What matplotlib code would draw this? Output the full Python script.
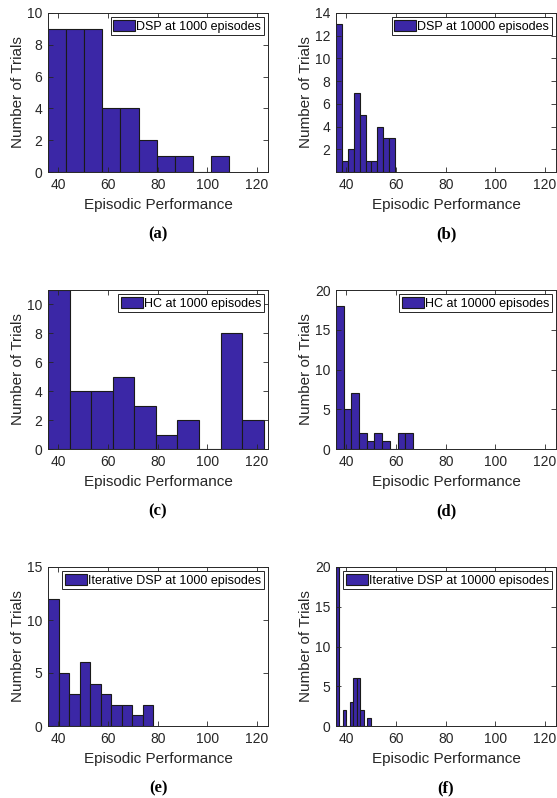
import numpy as np
from matplotlib import pyplot as plt

plt.rcParams['font.family'] = ['Liberation Sans', 'DejaVu Sans']

# histogram counts (10 bins each, first edge ~35.8)
bin_start = 35.8
cnt_a = [9, 9, 9, 4, 4, 2, 1, 1, 0, 1]
cnt_b = [13, 1, 2, 7, 5, 1, 1, 4, 3, 3]
cnt_c = [11, 4, 4, 5, 3, 1, 2, 0, 8, 2]
cnt_d = [18, 5, 7, 2, 1, 2, 1, 0, 2, 2]
cnt_e = [12, 5, 3, 6, 4, 3, 2, 2, 1, 2]
cnt_f = [20, 0, 2, 0, 3, 6, 6, 2, 0, 1]
widths = [7.3, 2.38, 8.7, 3.1, 4.25, 1.41]

labels = ['DSP at 1000 episodes', 'DSP at 10000 episodes',
          'HC at 1000 episodes', 'HC at 10000 episodes',
          'Iterative DSP at 1000 episodes', 'Iterative DSP at 10000 episodes']
captions = ['(a)', '(b)', '(c)', '(d)', '(e)', '(f)']
ylims = [10, 14, 11, 20, 15, 20]
yticks = [np.arange(0, 11, 2), np.arange(2, 15, 2), np.arange(0, 11, 2),
          np.arange(0, 21, 5), np.arange(0, 16, 5), np.arange(0, 21, 5)]
xticks = [40, 60, 80, 100, 120]

counts = [cnt_a, cnt_b, cnt_c, cnt_d, cnt_e, cnt_f]

W, H = 557, 798
fig = plt.figure(figsize=(W/100, H/100), dpi=100)

lefts = [48, 336]
tops = [13, 290, 567]
aw, ah = 220, 159

txtc = '#262626'
barc = '#3b27a6'

for k in range(6):
    r, c = k // 2, k % 2
    x0 = lefts[c]
    y0 = tops[r] + ah
    ax = fig.add_axes([x0/W, 1 - y0/H, aw/W, ah/H])

    cnt = np.array(counts[k])
    edges = bin_start + widths[k]*np.arange(len(cnt))
    ax.bar(edges, cnt, width=widths[k], align='edge', color=barc,
           edgecolor='#1a1a1a', linewidth=0.8, label=labels[k])

    ax.set_xlim(35.8, 124.5)
    ax.set_ylim(0, ylims[k])
    ax.set_xticks(xticks)
    ax.set_yticks(yticks[k])
    ax.tick_params(direction='in', top=True, right=True, length=3.5,
                   width=0.6, labelsize=10, colors=txtc, pad=4)
    for s in ax.spines.values():
        s.set_color(txtc)
        s.set_linewidth(0.7)

    ax.set_xlabel('Episodic Performance', fontsize=11, color=txtc)
    ax.set_ylabel('Number of Trials', fontsize=11, color=txtc)
    ax.xaxis.set_label_coords(0.5, -0.165)
    ax.yaxis.set_label_coords(-0.105, 0.5)

    leg = ax.legend(loc='upper right', fontsize=9, fancybox=False,
                    framealpha=1, edgecolor=txtc, handlelength=1.75,
                    handleheight=1.0, handletextpad=0.1, borderpad=0.2,
                    borderaxespad=0.35)
    leg.get_frame().set_linewidth(0.7)

    fig.text((x0 + aw/2)/W, 1 - (y0 + 62)/H, captions[k], ha='center',
             va='center', fontsize=12, fontweight='bold',
             family=['Liberation Serif', 'DejaVu Serif'])

fig.savefig('out.png', dpi=100)
